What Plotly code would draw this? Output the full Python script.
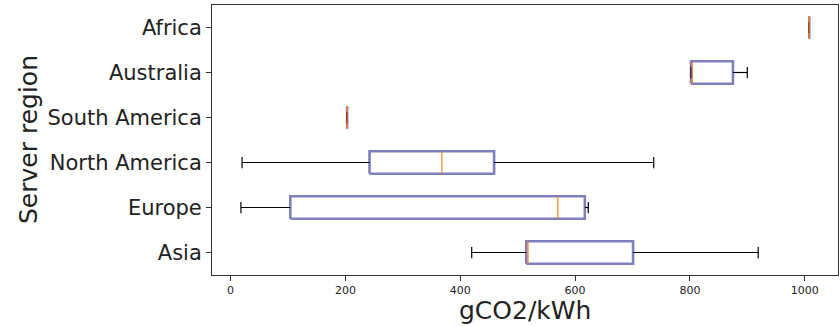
import plotly.graph_objects as go

regions = ["Asia", "Europe", "North America", "South America", "Australia", "Africa"]
whisker_low = [420, 18, 20, 203, 802, 1008]
q1 = [515, 104, 242, 203, 802, 1008]
median = [518, 570, 368, 203, 804, 1008]
q3 = [701, 617, 459, 203, 875, 1008]
whisker_high = [919, 623, 737, 203, 900, 1008]
x_ticks = [0, 200, 400, 600, 800, 1000]

pos = list(range(1, len(regions) + 1))
BOX_HALF = 0.25
CAP_HALF = 0.125

wx, wy, cx, cy, bx, by, mx, my = [], [], [], [], [], [], [], []
for p, lo, a, m, b, hi in zip(pos, whisker_low, q1, median, q3, whisker_high):
    wx += [lo, a, None, b, hi, None]
    wy += [p, p, None, p, p, None]
    cx += [lo, lo, None, hi, hi, None]
    cy += [p - CAP_HALF, p + CAP_HALF, None, p - CAP_HALF, p + CAP_HALF, None]
    bx += [a, b, b, a, a, None]
    by += [p - BOX_HALF, p - BOX_HALF, p + BOX_HALF, p + BOX_HALF, p - BOX_HALF, None]
    mx += [m, m, None]
    my += [p - BOX_HALF, p + BOX_HALF, None]

fig = go.Figure()
fig.add_trace(go.Scatter(x=wx, y=wy, mode="lines", line=dict(color="black", width=1.2),
                         hoverinfo="skip", showlegend=False))
fig.add_trace(go.Scatter(x=cx, y=cy, mode="lines", line=dict(color="black", width=1.2),
                         hoverinfo="skip", showlegend=False))
fig.add_trace(go.Scatter(x=bx, y=by, mode="lines", line=dict(color="rgba(0,0,128,0.5)", width=2.6),
                         showlegend=False))
fig.add_trace(go.Scatter(x=mx, y=my, mode="lines", line=dict(color="#ff7f0e", width=1.2),
                         hoverinfo="skip", showlegend=False))

font = "DejaVu Sans"
fig.update_layout(
    width=840, height=326,
    margin=dict(l=212, r=2, t=5, b=50.5, autoexpand=False),
    plot_bgcolor="white", paper_bgcolor="white",
    font=dict(family=font, color="black"),
    showlegend=False,
)
fig.update_xaxes(
    range=[-32.4, 1058], tickvals=x_ticks, ticktext=[str(v) for v in x_ticks],
    tickfont=dict(size=11, family=font, color="#222"),
    ticks="outside", ticklen=5, tickcolor="#333", tickwidth=1,
    showline=True, linecolor="#333", linewidth=1, mirror=True,
    showgrid=False, zeroline=False, automargin=False,
)
fig.update_yaxes(
    range=[0.5, 6.5], tickvals=pos, ticktext=regions,
    tickfont=dict(size=21, family=font, color="#222"),
    ticks="outside", ticklen=5, tickcolor="#333", tickwidth=1,
    showline=True, linecolor="#333", linewidth=1, mirror=True,
    showgrid=False, zeroline=False, automargin=False,
)
fig.add_annotation(text="Server region", xref="paper", yref="paper",
                   x=(28 - 212) / 626, y=0.5, xanchor="center", yanchor="middle",
                   textangle=-90, showarrow=False, font=dict(size=25, family=font, color="#222"))
fig.add_annotation(text="gCO2/kWh", xref="paper", yref="paper",
                   x=0.5, y=-(311 - 275.5) / 270.5, xanchor="center", yanchor="middle",
                   showarrow=False, font=dict(size=25, family=font, color="#222"))

fig.write_html("out.html", config={"displayModeBar": False},
               post_script="document.body.style.margin='0';document.body.style.overflow='hidden';")
